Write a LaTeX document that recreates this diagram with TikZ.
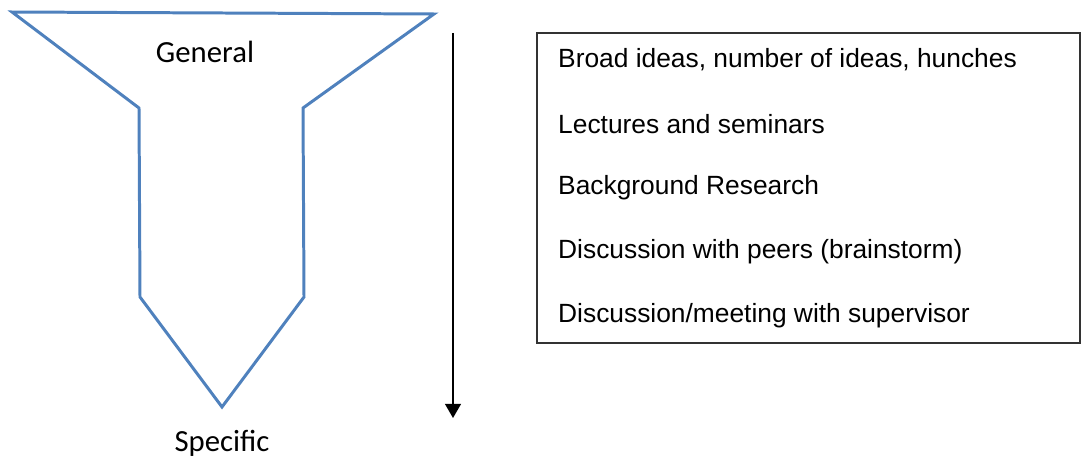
\documentclass[tikz,border=0pt]{standalone}
\usepackage{fontspec}
\setmainfont{Liberation Sans}
\newfontfamily\calibri{Carlito}
\usetikzlibrary{arrows.meta}
\definecolor{funnelblue}{RGB}{79,129,189}
\begin{document}
\begin{tikzpicture}[x=0.02cm,y=-0.02cm,
    lbl/.style={font=\calibri\fontsize{17.5}{21}\selectfont},
    item/.style={anchor=west,font=\fontsize{15}{18}\selectfont}]
    \useasboundingbox (0,0) rectangle (1081,462);
    % funnel
    \draw[funnelblue,line width=1.7pt,line join=miter] (12,12) -- (434,14) -- (303,108) -- (304,297) -- (222,407) -- (140,297) -- (139,108) -- cycle;
    \node[lbl] (general) at (205,52) {General};
    \node[lbl] (specific) at (222,443) {Specific};
    % arrow
    \coordinate (top) at (453,33);
    \coordinate (bottom) at (453,418);
    \draw[line width=0.9pt,-{Triangle[width=9pt,length=8pt]}] (top) -- (bottom);
    % list
    \draw[line width=0.6pt,black!80] (537,33) rectangle (1080,343);
    \foreach[count=\i] \t in {Broad ideas{,} number of ideas{,} hunches,Lectures and seminars,Background Research,Discussion with peers (brainstorm),Discussion/meeting with supervisor} {
        \node[item] (item\i) at (552,60+64*\i-64) {\t};
    }
\end{tikzpicture}
\end{document}
